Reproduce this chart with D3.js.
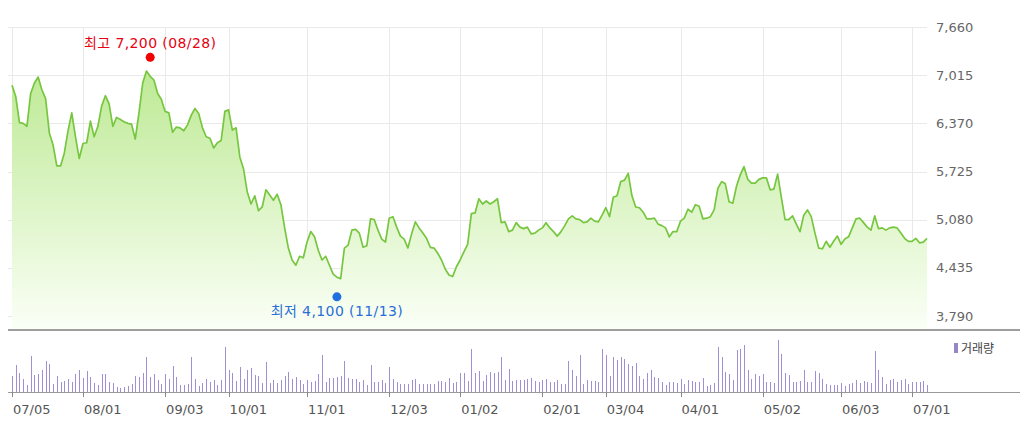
<!DOCTYPE html>
<html><head><meta charset="utf-8">
<script src="https://cdn.jsdelivr.net/npm/d3@7"></script>
<style>body{margin:0;background:#fff;} svg{display:block;}</style>
</head><body><svg id="c" width="1020" height="426"></svg>
<script>
const prices = [
6880,6730,6380,6370,6330,6770,6910,6990,6820,6700,
6240,6080,5800,5800,5970,6270,6510,6190,5900,6100,
6110,6400,6190,6330,6600,6740,6630,6330,6450,6420,
6390,6370,6360,6160,6510,6910,7070,7000,6950,6770,
6690,6530,6510,6250,6320,6310,6270,6350,6480,6570,
6500,6310,6190,6170,6040,6110,6140,6530,6550,6280,
6310,5920,5760,5450,5290,5400,5200,5250,5480,5410,
5340,5420,5280,4970,4700,4540,4470,4590,4570,4780,
4920,4850,4670,4540,4590,4470,4350,4310,4290,4700,
4740,4940,4950,4900,4710,4730,5090,5080,4940,4820,
4780,5100,5120,4980,4860,4820,4700,4890,5050,4970,
4900,4830,4710,4700,4630,4540,4420,4340,4320,4450,
4540,4650,4750,5160,5170,5360,5290,5330,5290,5320,
5360,5040,5050,4920,4940,5040,4980,4960,4980,4890,
4900,4940,4970,5040,4970,4920,4860,4920,5000,5090,
5130,5090,5080,5040,5050,5100,5060,5050,5140,5240,
5120,5380,5400,5590,5610,5700,5400,5250,5240,5180,
5090,5090,5100,5020,5000,4970,4850,4920,4920,5060,
5100,5220,5180,5280,5260,5090,5100,5120,5210,5500,
5590,5560,5320,5300,5530,5680,5790,5620,5570,5570,
5620,5640,5640,5480,5490,5690,5380,5080,5080,5130,
5020,4920,5140,5210,5120,4900,4700,4690,4790,4710,
4790,4860,4750,4820,4850,4970,5090,5100,5040,4980,
4940,5130,4960,4970,4940,4970,4980,4970,4900,4830,
4790,4790,4830,4770,4780,4830
];
const volumes = [
16,27,19,13,7,36,17,18,22,31,
28,8,16,10,11,13,10,18,22,14,
21,15,9,7,18,18,10,9,5,4,
5,6,8,16,15,19,35,15,18,12,
8,18,13,26,15,7,7,8,35,13,
6,9,13,10,12,7,12,45,22,19,
11,25,13,22,24,17,16,9,30,9,
12,9,12,16,20,13,15,12,8,12,
10,11,18,37,10,14,14,15,16,31,
14,13,13,10,12,7,27,10,10,12,
9,25,13,10,8,8,8,12,13,8,
8,8,8,8,11,11,10,14,9,10,
19,19,11,43,19,21,11,17,20,19,
20,35,12,23,11,12,12,12,13,14,
11,10,12,13,10,10,12,8,8,31,
22,16,37,8,12,11,11,10,43,37,
16,35,32,35,33,28,26,29,16,13,
19,22,15,14,10,7,10,10,9,13,
8,12,11,10,10,14,6,7,9,45,
35,20,18,12,42,43,47,22,13,18,
16,18,10,10,9,52,38,19,17,10,
10,11,22,10,10,21,19,13,8,7,
7,7,9,6,8,9,12,9,11,10,
9,41,22,15,8,12,13,10,12,13,
8,10,10,10,11,7
];
const tickIndex = [0,19,41,58,79,101,120,142,159,179,201,222,241];
const tickLabels = ["07/05","08/01","09/03","10/01","11/01","12/03","01/02","02/01","03/04","04/01","05/02","06/03","07/01"];
const yTicks = [3790,4435,5080,5725,6370,7015,7660];
const highIndex = 37, highValue = 7200, highLabel = "최고 7,200 (08/28)";
const lowIndex = 87, lowValue = 4100, lowLabel = "최저 4,100 (11/13)";
const legendLabel = "거래량";

const svg = d3.select("#c");
const fontNum = "'DejaVu Sans','Noto Sans CJK KR',sans-serif";
const x = d3.scaleLinear().domain([0, prices.length - 1]).range([12, 927]);
const y = d3.scaleLinear().domain([3790, 7660]).range([316, 27]);
const plotBottom = 330;
const yv = d3.scaleLinear().domain([0, 53]).range([392, 339]);

const defs = svg.append("defs");
const grad = defs.append("linearGradient").attr("id", "g").attr("gradientUnits", "userSpaceOnUse")
  .attr("x1", 0).attr("x2", 0).attr("y1", 27).attr("y2", plotBottom);
grad.append("stop").attr("offset", 0).attr("stop-color", "#b3e684");
grad.append("stop").attr("offset", 1).attr("stop-color", "#fbfff7");

// grid
svg.append("g").selectAll("line").data(yTicks).join("line")
  .attr("x1", 8).attr("x2", 927).attr("y1", d => Math.round(y(d)) + 0.5).attr("y2", d => Math.round(y(d)) + 0.5)
  .attr("stroke", "#e9e9e9");
svg.append("g").selectAll("line").data(tickIndex).join("line")
  .attr("x1", d => Math.round(x(d)) + 0.5).attr("x2", d => Math.round(x(d)) + 0.5)
  .attr("y1", 27).attr("y2", plotBottom).attr("stroke", "#e9e9e9");

// area + line
const area = d3.area().x((d, i) => x(i)).y0(plotBottom).y1(d => y(d));
const line = d3.line().x((d, i) => x(i)).y(d => y(d));
svg.append("path").datum(prices).attr("d", area).attr("fill", "url(#g)");
svg.append("path").datum(prices).attr("d", line).attr("fill", "none")
  .attr("stroke", "#77c63f").attr("stroke-width", 1.7).attr("stroke-linejoin", "round");

// y labels
svg.append("g").selectAll("text").data(yTicks).join("text")
  .attr("x", 936).attr("y", d => y(d) + 4.5)
  .attr("font-family", fontNum).attr("font-size", 13).attr("fill", "#666")
  .text(d => d3.format(",")(d));

// separator
svg.append("line").attr("x1", 8).attr("x2", 1020).attr("y1", 330).attr("y2", 330)
  .attr("stroke", "#9e9e9e").attr("stroke-width", 2);

// volume bars
svg.append("g").selectAll("line").data(volumes).join("line")
  .attr("x1", (d, i) => Math.round(x(i)) + 0.5).attr("x2", (d, i) => Math.round(x(i)) + 0.5)
  .attr("y1", yv(0)).attr("y2", d => yv(d))
  .attr("stroke", "#a08fd3").attr("stroke-width", 1);
svg.append("line").attr("x1", 8).attr("x2", 1020).attr("y1", 392.5).attr("y2", 392.5)
  .attr("stroke", "#999");

// x ticks & labels
svg.append("g").selectAll("line").data(tickIndex).join("line")
  .attr("x1", d => Math.round(x(d)) + 0.5).attr("x2", d => Math.round(x(d)) + 0.5)
  .attr("y1", 392).attr("y2", 397).attr("stroke", "#888");
svg.append("g").selectAll("text").data(tickIndex).join("text")
  .attr("x", d => x(d) + 1).attr("y", 414)
  .attr("font-family", fontNum).attr("font-size", 13).attr("fill", "#555")
  .text((d, i) => tickLabels[i]);

// legend
svg.append("rect").attr("x", 954).attr("y", 343).attr("width", 4).attr("height", 10).attr("fill", "#9585c9");
svg.append("text").attr("x", 961).attr("y", 353).attr("font-family", "'Noto Sans CJK KR',sans-serif")
  .attr("font-size", 12).attr("fill", "#444").text(legendLabel);

// high / low annotations
svg.append("circle").attr("cx", x(highIndex)).attr("cy", y(highValue) - 4).attr("r", 4.5).attr("fill", "#f00000");
svg.append("text").attr("x", x(highIndex)).attr("y", 48).attr("text-anchor", "middle")
  .attr("font-family", fontNum).attr("font-size", 14).attr("letter-spacing", 0.4)
  .attr("fill", "#e60012").text(highLabel);
svg.append("circle").attr("cx", x(lowIndex)).attr("cy", y(lowValue) + 4).attr("r", 4.5).attr("fill", "#1f6fe0");
svg.append("text").attr("x", x(lowIndex)).attr("y", 316).attr("text-anchor", "middle")
  .attr("font-family", fontNum).attr("font-size", 14).attr("letter-spacing", 0.4)
  .attr("fill", "#2a6fd6").text(lowLabel);
</script></body></html>
